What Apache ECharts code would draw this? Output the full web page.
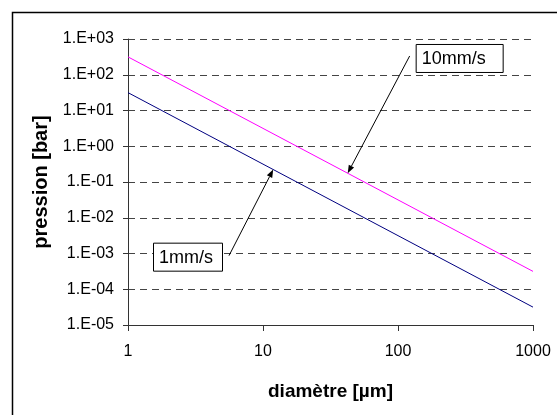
<!DOCTYPE html>
<html>
<head>
<meta charset="utf-8">
<script src="https://cdn.jsdelivr.net/npm/echarts@6/dist/echarts.min.js"></script>
<style>
  html, body { margin: 0; padding: 0; background: #fff; }
  #chart { width: 557px; height: 415px; }
</style>
</head>
<body>
<div id="chart"></div>
<script>
// ---- data ----
var diameters = [1, 10, 100, 1000];                 // µm
var pression10 = [316, 3.16, 0.0316, 0.000316];      // bar, 10mm/s
var pression1 = [31.6, 0.316, 0.00316, 0.0000316];   // bar, 1mm/s
var yTickLabels = ['1.E-05', '1.E-04', '1.E-03', '1.E-02', '1.E-01', '1.E+00', '1.E+01', '1.E+02', '1.E+03'];
var xTickLabels = ['1', '10', '100', '1000'];
var seriesNames = ['10mm/s', '1mm/s'];
// annotation anchors (data coords): [arrow tip on line, arrow start near box]
var ann10 = { tip: [42.4, 0.176], start: [122, 335] };
var ann1 = { tip: [11.9, 0.223], start: [5.6, 0.00087] };

var FONT = '"Liberation Sans", Arial, sans-serif';

function pairs(xs, ys) { return xs.map(function (x, i) { return [x, ys[i]]; }); }

var chart = echarts.init(document.getElementById('chart'), null, { renderer: 'canvas' });

chart.setOption({
  animation: false,
  backgroundColor: '#fff',
  grid: { left: 128, top: 39, right: 24, bottom: 90, containLabel: false },
  xAxis: {
    type: 'log', logBase: 10, min: 1, max: 1000,
    name: 'diamètre [µm]', nameLocation: 'middle', nameGap: 57,
    nameTextStyle: { fontFamily: FONT, fontSize: 19, fontWeight: 'bold', color: '#000' },
    axisLine: { show: true, lineStyle: { color: '#333', width: 1 } },
    axisTick: { show: true, inside: false, length: 6, lineStyle: { color: '#333' } },
    minorTick: { show: false },
    splitLine: { show: false },
    axisLabel: {
      fontFamily: FONT, fontSize: 16, color: '#000', margin: 19,
      formatter: function (v) { var i = Math.round(Math.log10(v)); return xTickLabels[i] || ''; }
    }
  },
  yAxis: {
    type: 'log', logBase: 10, min: 0.00001, max: 1000,
    name: 'pression [bar]', nameLocation: 'middle', nameGap: 74,
    nameTextStyle: { fontFamily: FONT, fontSize: 20, fontWeight: 'bold', color: '#000' },
    axisLine: { show: true, lineStyle: { color: '#333', width: 1 } },
    axisTick: { show: true, inside: false, length: 5, lineStyle: { color: '#333' } },
    minorTick: { show: false },
    splitLine: { show: true, lineStyle: { color: '#444', width: 1, type: [7, 5] } },
    axisLabel: {
      fontFamily: FONT, fontSize: 16, color: '#000', margin: 14,
      formatter: function (v) { var i = Math.round(Math.log10(v)) + 5; return yTickLabels[i] || ''; }
    }
  },
  series: [
    { name: seriesNames[0], type: 'line', data: pairs(diameters, pression10), symbol: 'none',
      lineStyle: { color: '#FF00FF', width: 1 }, z: 3 },
    { name: seriesNames[1], type: 'line', data: pairs(diameters, pression1), symbol: 'none',
      lineStyle: { color: '#000080', width: 1 }, z: 3 }
  ]
});

function px(p) { return chart.convertToPixel({ gridIndex: 0 }, p); }

function arrow(tipD, startD) {
  var t = px(tipD), s = px(startD);
  var dx = t[0] - s[0], dy = t[1] - s[1];
  var len = Math.sqrt(dx * dx + dy * dy);
  var ux = dx / len, uy = dy / len;
  var hl = 8, hw = 3;
  var bx = t[0] - ux * hl, by = t[1] - uy * hl;
  return [
    { type: 'line', shape: { x1: s[0], y1: s[1], x2: bx, y2: by },
      style: { stroke: '#000', lineWidth: 1 }, z: 10 },
    { type: 'polygon', shape: { points: [[t[0], t[1]], [bx - uy * hw, by + ux * hw], [bx + uy * hw, by - ux * hw]] },
      style: { fill: '#000' }, z: 10 }
  ];
}

function box(startD, label, side) {
  var s = px(startD);
  var w = label.length > 5 ? 87 : 69, h = 28;
  var x = side === 'right' ? s[0] + 6 : s[0] - 7 - w;
  var y = s[1] - h / 2 + (side === 'right' ? 2 : 1);
  return [
    { type: 'rect', shape: { x: x + 0.5, y: y + 0.5, width: w, height: h },
      style: { fill: '#fff', stroke: '#000', lineWidth: 1 }, z: 11 },
    { type: 'text', x: x + 6, y: y + h / 2 + 1,
      style: { text: label, font: '18px ' + FONT, fill: '#000', verticalAlign: 'middle', align: 'left' }, z: 12 }
  ];
}

var g = [
  { type: 'rect', shape: { x: 12.5, y: 12.5, width: 1000, height: 1000 },
    style: { fill: 'none', stroke: '#000', lineWidth: 1.5 }, z: 0, silent: true }
];
g = g.concat(arrow(ann10.tip, ann10.start), box(ann10.start, seriesNames[0], 'right'));
g = g.concat(arrow(ann1.tip, ann1.start), box(ann1.start, seriesNames[1], 'left'));

chart.setOption({ graphic: g });
</script>
</body>
</html>
